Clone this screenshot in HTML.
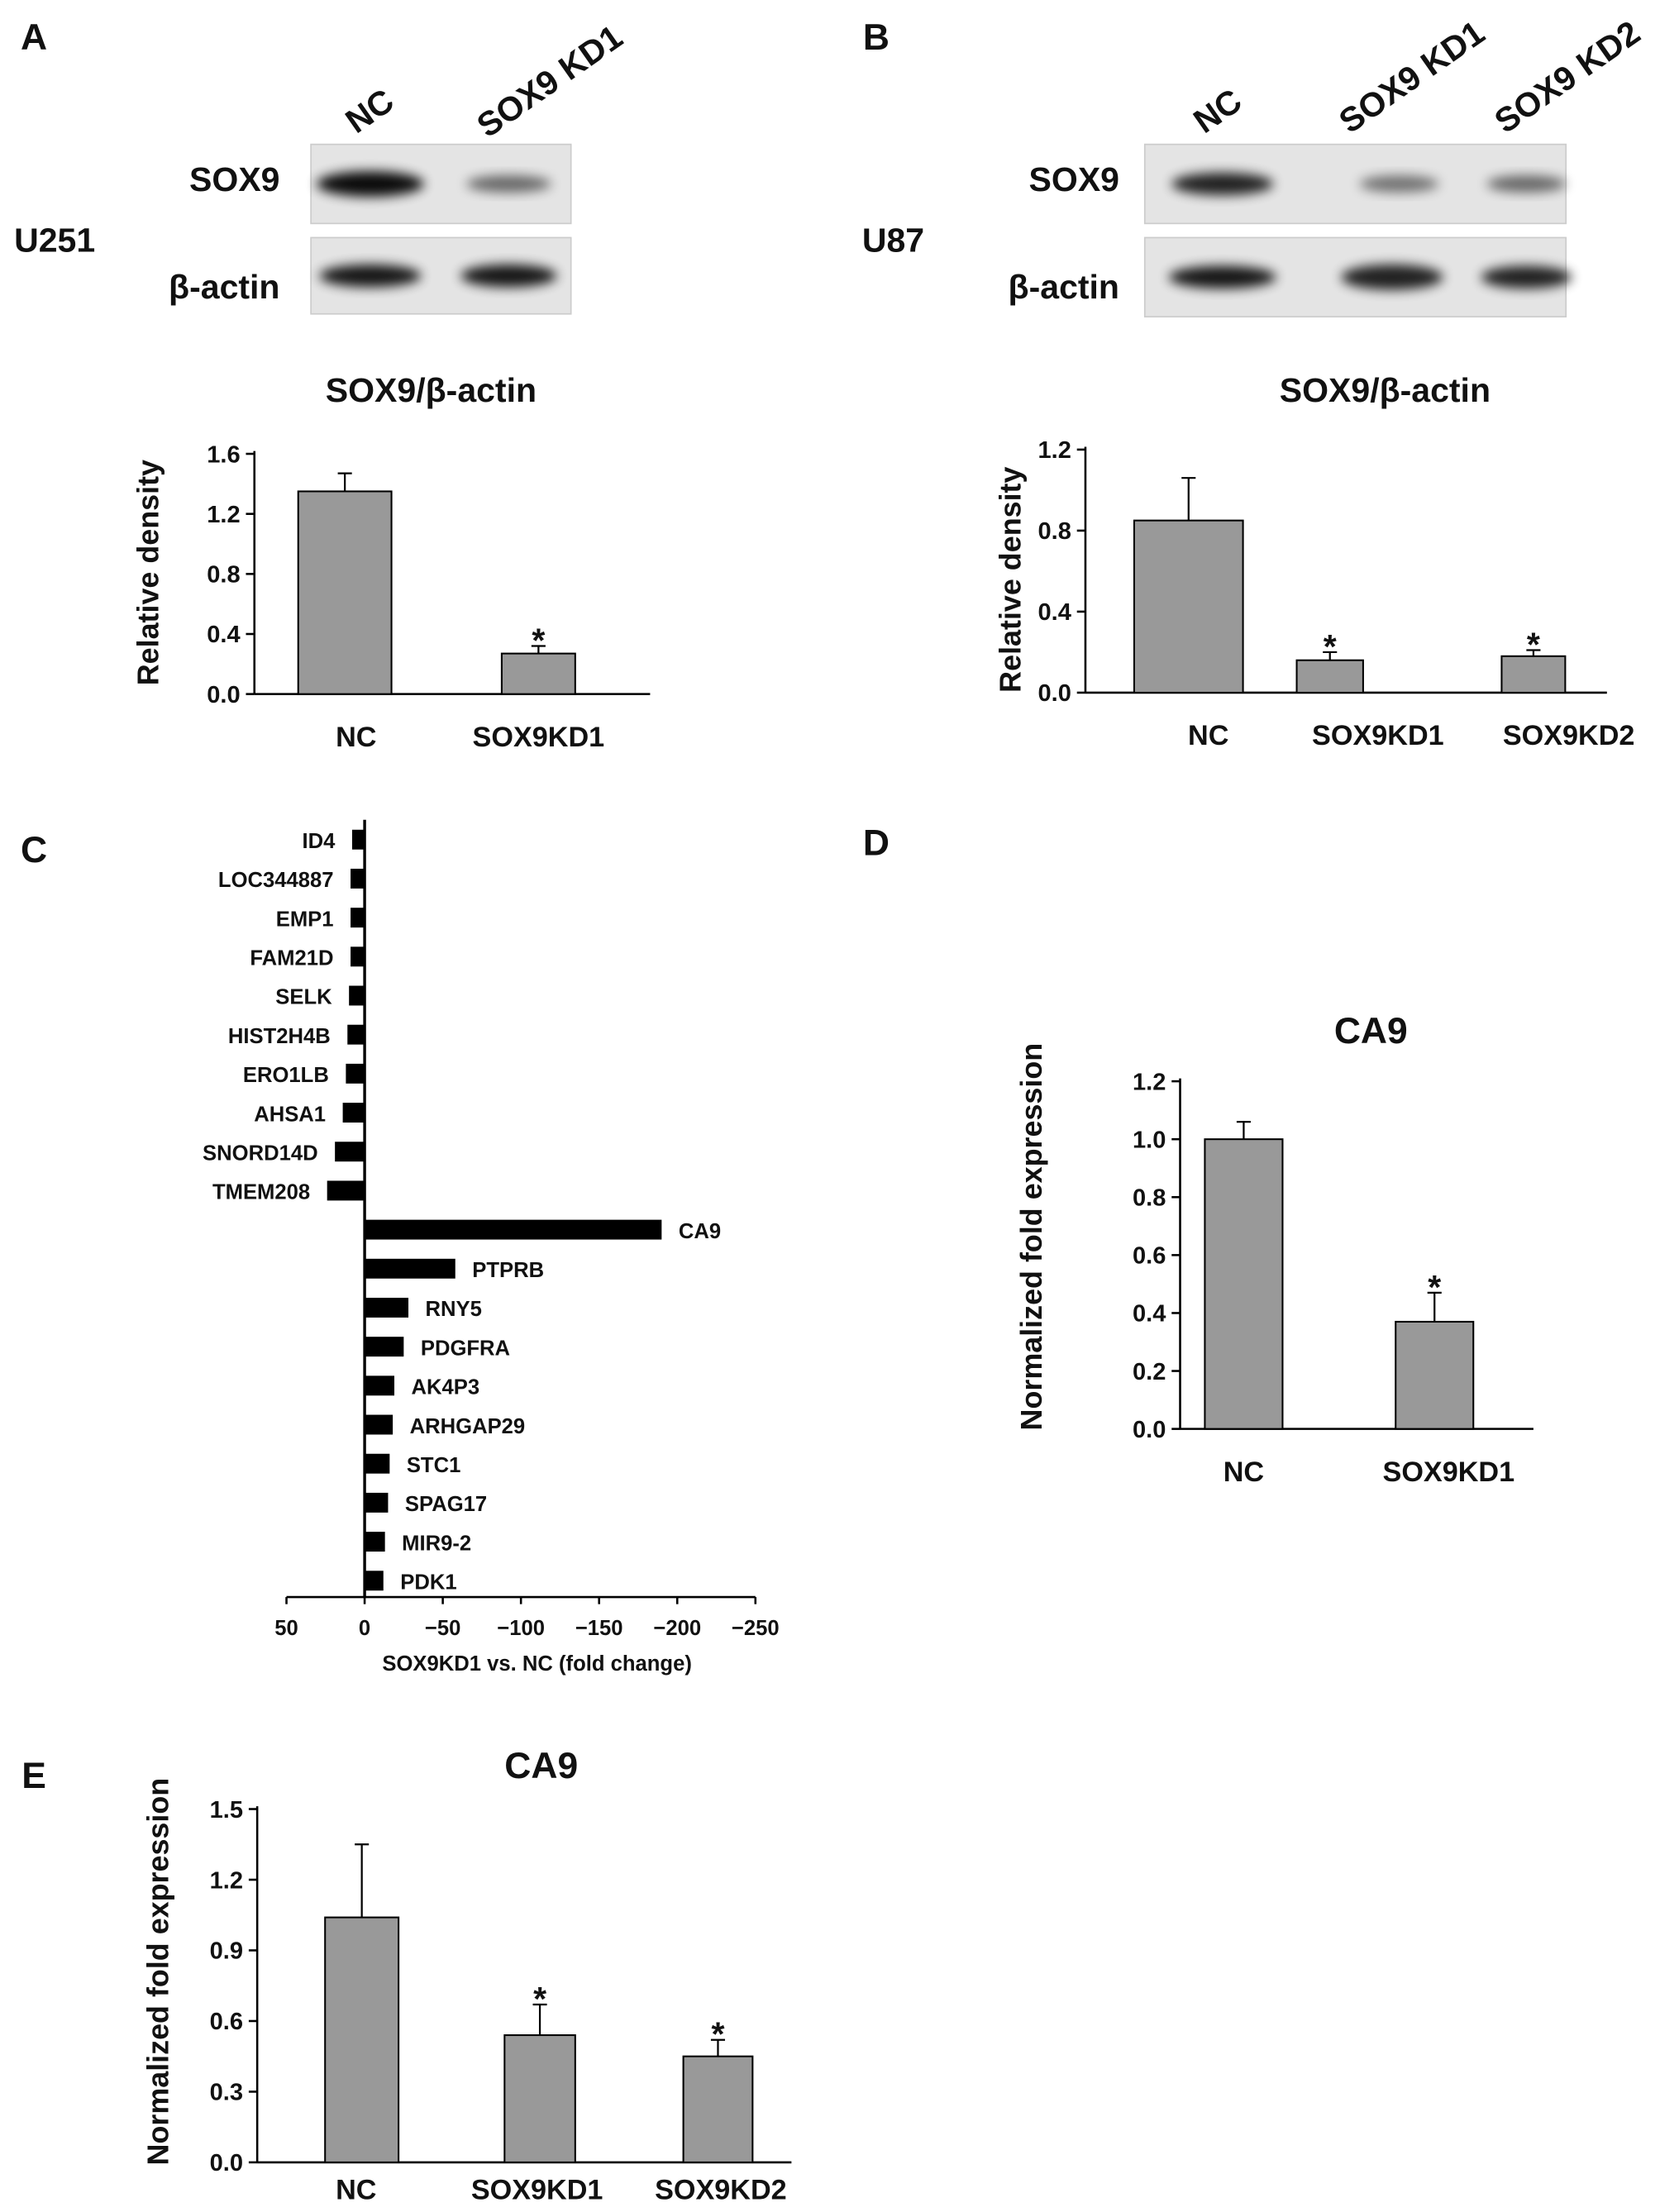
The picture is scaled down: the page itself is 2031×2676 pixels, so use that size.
<!DOCTYPE html>
<html><head><meta charset="utf-8"><style>
html,body{margin:0;padding:0;background:#fff}
svg{display:block}
text{font-family:"Liberation Sans",Arial,sans-serif;font-weight:bold;fill:#111}
</style></head><body>
<svg id="fig" xmlns="http://www.w3.org/2000/svg" width="2031" height="2676" viewBox="0 0 1188 1565">
<defs><filter id="blur" x="-20%" y="-50%" width="140%" height="200%"><feGaussianBlur stdDeviation="4"/></filter></defs>
<g id="root"></g>
</svg>
<script>
// ---- data ----
var catsA=["NC","SOX9KD1"], valsA=[1.35,0.27], errA=[0.12,0.05], sigA=[false,true], ticksA=[0,0.4,0.8,1.2,1.6];
var catsB=["NC","SOX9KD1","SOX9KD2"], valsB=[0.85,0.16,0.18], errB=[0.21,0.04,0.03], sigB=[false,true,true], ticksB=[0,0.4,0.8,1.2];
var catsD=["NC","SOX9KD1"], valsD=[1.0,0.37], errD=[0.06,0.1], sigD=[false,true], ticksD=[0,0.2,0.4,0.6,0.8,1.0,1.2];
var catsE=["NC","SOX9KD1","SOX9KD2"], valsE=[1.04,0.54,0.45], errE=[0.31,0.13,0.07], sigE=[false,true,true], ticksE=[0,0.3,0.6,0.9,1.2,1.5];
var genesC=["ID4","LOC344887","EMP1","FAM21D","SELK","HIST2H4B","ERO1LB","AHSA1","SNORD14D","TMEM208","CA9","PTPRB","RNY5","PDGFRA","AK4P3","ARHGAP29","STC1","SPAG17","MIR9-2","PDK1"];
var foldC=[8,9,9,9,10,11,12,14,19,24,-190,-58,-28,-25,-19,-18,-16,-15,-13,-12];
var ticksC=[50,0,-50,-100,-150,-200,-250];

var NS="http://www.w3.org/2000/svg", root=document.getElementById('root');
function el(tag,attrs,parent,txt){var e=document.createElementNS(NS,tag);for(var k in attrs)e.setAttribute(k,attrs[k]);if(txt!==undefined)e.textContent=txt;(parent||root).appendChild(e);return e;}
function txt(x,y,s,size,anchor,name,extra){var t=el('text',{x:x,y:y,'font-size':size,'text-anchor':anchor||'middle'},null,s);


if(extra)t.setAttribute('transform',extra);return t;}

function barChart(o){
  var g=el('g',{});
  
  
  var tmax=o.ticks[o.ticks.length-1];
  function y(v){return o.y0-(v/tmax)*(o.y0-o.y1);}
  el('line',{x1:o.ax,y1:o.y1-2,x2:o.ax,y2:o.y0,stroke:'#000','stroke-width':1.5},g);
  el('line',{x1:o.ax,y1:o.y0,x2:o.xend,y2:o.y0,stroke:'#000','stroke-width':1.5},g);
  o.ticks.forEach(function(t){
    el('line',{x1:o.ax-6,y1:y(t),x2:o.ax,y2:y(t),stroke:'#000','stroke-width':1.5},g);
    var tl=el('text',{x:o.ax-10,y:y(t)+6,'font-size':17,'text-anchor':'end'},g,t.toFixed(1));
    
    
  });
  o.cats.forEach(function(c,i){
    var cx=o.centers[i], w=o.widths[i], top=y(o.vals[i]), et=y(o.vals[i]+o.errs[i]);
    var r=el('rect',{x:cx-w/2,y:top,width:w,height:o.y0-top,fill:'#999',stroke:'#000','stroke-width':1.2},g);
    
    
    var e=el('path',{d:'M'+cx+' '+top+'V'+et+'M'+(cx-5)+' '+et+'H'+(cx+5),stroke:'#000','stroke-width':1.3,fill:'none'},g);
    
    
    if(o.sig[i]){var s=el('text',{x:cx,y:et+4,'font-size':24,'text-anchor':'middle'},g,'*');
      
      }
    var l=el('text',{x:o.labelX[i],y:o.y0+(o.labOff||37),'font-size':20,'text-anchor':'middle'},g,c);
    
    
  });
  var yt=el('text',{x:0,y:0,'font-size':21,'text-anchor':'middle',transform:'translate('+o.ytx+','+o.yty+') rotate(-90)'},g,o.ytitle);
  
  
}

// panel letters
txt(24,35,'A',26,'middle','panel-label-a');
txt(620,35,'B',26,'middle','panel-label-b');
txt(24,610,'C',26,'middle','panel-label-c');
txt(620,605,'D',26,'middle','panel-label-d');
txt(24,1265,'E',26,'middle','panel-label-e');

// blots
function blot(x,yy,w,h,bands,name){
  var g=el('g',{});
  
  
  el('rect',{x:x,y:yy,width:w,height:h,fill:'#e4e4e4',stroke:'#ccc'},g);
  bands.forEach(function(b){el('ellipse',{cx:b[0],cy:yy+h/2,rx:b[1],ry:b[2],fill:'#000',opacity:b[3],filter:'url(#blur)'},g);});
}
blot(220,102,184,56,[[262,38,9,0.95],[360,30,6,0.55]],'blot-a-sox9');
blot(220,168,184,54,[[262,36,8,0.9],[360,34,8,0.9]],'blot-a-actin');
blot(810,102,298,56,[[865,36,8,0.85],[990,28,6,0.5],[1080,28,6,0.55]],'blot-b-sox9');
blot(810,168,298,56,[[865,38,8,0.9],[985,36,9,0.85],[1080,32,8,0.85]],'blot-b-actin');
txt(198,135,'SOX9',24,'end','row-label-sox9-a');
txt(198,211,'β-actin',24,'end','row-label-actin-a');
txt(10,178,'U251',24,'start','cell-line-u251');
txt(792,135,'SOX9',24,'end','row-label-sox9-b');
txt(792,211,'β-actin',24,'end','row-label-actin-b');
txt(610,178,'U87',24,'start','cell-line-u87');
txt(0,0,'NC',24,'start','lane-label-nc-a','translate(252,95) rotate(-35)');
txt(0,0,'SOX9 KD1',24,'start','lane-label-kd1-a','translate(345,98) rotate(-35)');
txt(0,0,'NC',24,'start','lane-label-nc-b','translate(852,95) rotate(-35)');
txt(0,0,'SOX9 KD1',24,'start','lane-label-kd1-b','translate(955,95) rotate(-35)');
txt(0,0,'SOX9 KD2',24,'start','lane-label-kd2-b','translate(1065,95) rotate(-35)');
txt(305,284,'SOX9/β-actin',24,'middle','chart-a-title');
txt(980,284,'SOX9/β-actin',24,'middle','chart-b-title');
txt(970,738,'CA9',26,'middle','chart-d-title');
txt(383,1258,'CA9',26,'middle','chart-e-title');

barChart({name:'chart-a',cats:catsA,vals:valsA,errs:errA,sig:sigA,ticks:ticksA,ax:180,y0:491,y1:321,xend:460,centers:[244,381],widths:[66,52],labelX:[252,381],ytitle:'Relative density',ytx:112,yty:405});
barChart({name:'chart-b',cats:catsB,vals:valsB,errs:errB,sig:sigB,ticks:ticksB,ax:768,y0:490,y1:318,xend:1137,centers:[841,941,1085],widths:[77,47,45],labelX:[855,975,1110],ytitle:'Relative density',ytx:722,yty:410});
barChart({name:'chart-d',cats:catsD,vals:valsD,errs:errD,sig:sigD,ticks:ticksD,ax:835,y0:1011,y1:765,xend:1085,centers:[880,1015],widths:[55,55],labelX:[880,1025],ytitle:'Normalized fold expression',ytx:737,yty:875});
barChart({name:'chart-e',cats:catsE,vals:valsE,errs:errE,sig:sigE,ticks:ticksE,ax:182,y0:1530,y1:1280,xend:560,centers:[256,382,508],widths:[52,50,49],labelX:[252,380,510],labOff:26,ytitle:'Normalized fold expression',ytx:119,yty:1395});

// panel C
(function(){
  var g=el('g',{});
  
  
  var x0=258, k=1.106, yTop=594, step=27.6, base=1130;
  function x(v){return x0-v*k;}
  el('line',{x1:x0,y1:580,x2:x0,y2:base,stroke:'#000','stroke-width':2},g);
  el('line',{x1:x(50),y1:base,x2:x(-250),y2:base,stroke:'#000','stroke-width':1.5},g);
  ticksC.forEach(function(t){
    el('line',{x1:x(t),y1:base,x2:x(t),y2:base+5,stroke:'#000','stroke-width':1.5},g);
    var tl=el('text',{x:x(t),y:base+27,'font-size':15,'text-anchor':'middle'},g,String(t).replace('-','−'));
    
    
  });
  genesC.forEach(function(gn,i){
    var cy=yTop+i*step, v=foldC[i], xe=x(v);
    var r=el('rect',{x:Math.min(x0,xe),y:cy-7,width:Math.abs(xe-x0),height:14,fill:'#000'},g);
    
    
    var l=el('text',{x:v>0?xe-12:xe+12,y:cy+6,'font-size':15,'text-anchor':v>0?'end':'start'},g,gn);
    
    
  });
  var xt=el('text',{x:380,y:1182,'font-size':15,'text-anchor':'middle'},g,'SOX9KD1 vs. NC (fold change)');
  
  
})();
</script>
</body></html>
